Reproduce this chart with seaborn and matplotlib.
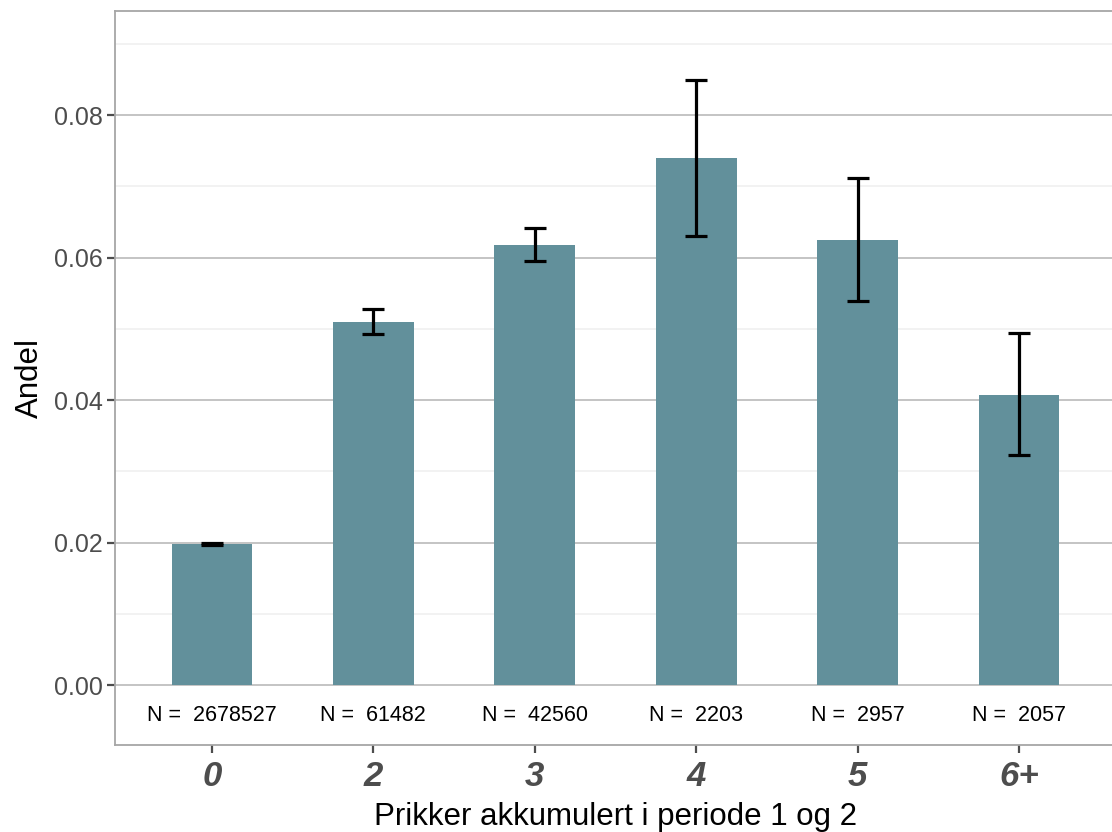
import matplotlib
matplotlib.use("Agg")
import matplotlib.pyplot as plt
import numpy as np
import pandas as pd
import seaborn as sns
from matplotlib.ticker import MultipleLocator, FormatStrFormatter

# data
kategorier = ["0", "2", "3", "4", "5", "6+"]
andel = [0.0198, 0.0509, 0.0618, 0.0740, 0.0625, 0.0407]
nedre = [0.0196, 0.0493, 0.0595, 0.0630, 0.0539, 0.0323]
ovre = [0.0200, 0.0528, 0.0641, 0.0849, 0.0712, 0.0494]
antall = [2678527, 61482, 42560, 2203, 2957, 2057]

df = pd.DataFrame({"prikker": kategorier, "andel": andel,
                   "nedre": nedre, "ovre": ovre, "N": antall})

sns.set_theme(style="white")
plt.rcParams['font.family'] = ['Liberation Sans', 'DejaVu Sans']

fig = plt.figure(figsize=(11.12, 8.32), dpi=100)
ax = fig.add_axes([115 / 1112, 1 - 745 / 832, (1116 - 115) / 1112, (745 - 11) / 832])

sns.barplot(data=df, x="prikker", y="andel", color="#62909B", width=0.5,
            saturation=1, errorbar=None, linewidth=0, ax=ax, zorder=3)

pos = np.arange(len(df))
ax.errorbar(pos, df["andel"],
            yerr=[df["andel"] - df["nedre"], df["ovre"] - df["andel"]],
            fmt="none", ecolor="black", elinewidth=2.3, capsize=8,
            capthick=2.3, zorder=4)

for i, n in enumerate(df["N"]):
    ax.text(i, -0.0042, f"N =  {n}", ha="center", va="center",
            fontsize=15.5, color="black")

ax.set_xlim(-0.6, 5.6)
ax.set_ylim(-0.0084, 0.0946)
ax.yaxis.set_major_locator(MultipleLocator(0.02))
ax.yaxis.set_minor_locator(MultipleLocator(0.01))
ax.yaxis.set_major_formatter(FormatStrFormatter("%.2f"))

ax.grid(which="major", axis="y", color="#C4C4C4", lw=1.4, zorder=0)
ax.grid(which="minor", axis="y", color="#F0F0F0", lw=1.2, zorder=0)
ax.set_axisbelow(True)

for s in ax.spines.values():
    s.set_color("#A6A6A6")
    s.set_linewidth(1.3)

ax.tick_params(axis="y", which="major", left=True, length=6, width=1.6,
               color="#4D4D4D", labelsize=18, labelcolor="#4D4D4D", pad=3)
ax.tick_params(axis="y", which="minor", left=False)
ax.tick_params(axis="x", bottom=True, length=6, width=1.6, color="#4D4D4D",
               labelsize=25, labelcolor="#4D4D4D", pad=5)
for lab in ax.get_xticklabels():
    lab.set_fontweight("bold")
    lab.set_fontstyle("italic")

ax.set_xlabel("Prikker akkumulert i periode 1 og 2", fontsize=22.5,
              color="black", labelpad=6)
ax.set_ylabel("Andel", fontsize=22.5, color="black", labelpad=6)

fig.savefig("out.png", dpi=100)
